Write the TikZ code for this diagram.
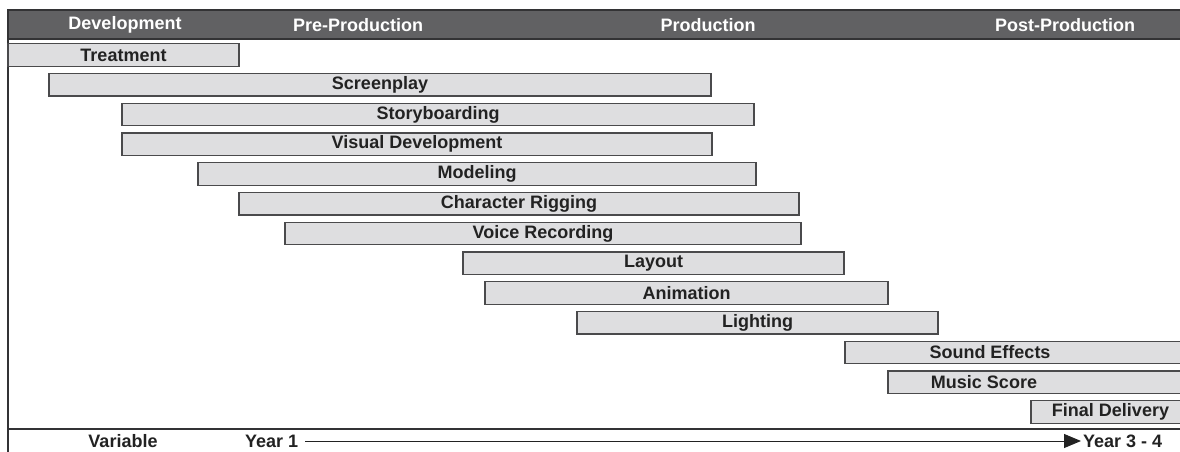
\documentclass[tikz,border=0pt]{standalone}
\usepackage{fontspec}
\setmainfont{Liberation Sans}
\usepackage{xcolor}
\usepackage{tikz}
\usetikzlibrary{arrows.meta}

\definecolor{bandgray}{HTML}{616163}
\definecolor{bandline}{HTML}{333335}
\definecolor{barfill}{HTML}{DEDEE0}
\definecolor{barline}{HTML}{4A4A4C}
\definecolor{ink}{HTML}{222222}

\begin{document}
\begin{tikzpicture}[
    x=1pt, y=-1pt,
    bar/.style={rectangle, draw=barline, fill=barfill, line width=1.2pt, minimum height=22.5pt, inner sep=0pt, text=ink, font=\bfseries\fontsize{18}{20}\selectfont},
    phase/.style={text=white, inner sep=0pt, font=\bfseries\fontsize{18}{20}\selectfont},
    scale label/.style={text=ink, inner sep=0pt, font=\bfseries\fontsize{18}{20}\selectfont},
    arrow/.style={-{Triangle[length=17pt,width=14pt]}, line width=1pt, ink}
]
    \useasboundingbox (0,0) rectangle (1180,452);

    % phase band
    \draw[fill=bandgray, draw=bandline, line width=1.8pt] (8,10) rectangle (1190,39);
    \node[phase] (dev) at (125,25) {Development};
    \node[phase] (preprod) at (358,25) {Pre-Production};
    \node[phase] (prod) at (708,25) {Production};
    \node[phase] (postprod) at (1065,25) {Post-Production};

    % frame
    \draw[line width=1.5pt, bandline] (8,39) -- (8,452);
    \draw[line width=1.8pt, bandline] (8,429) -- (1190,429);

    % tasks
    \node[bar, minimum width=231pt] (treatment) at (123.5,55) {Treatment};
    \node[bar, minimum width=662pt] (screenplay) at (380,84.75) {Screenplay};
    \node[bar, minimum width=632pt] (storyboard) at (438,114.5) {Storyboarding};
    \node[bar, minimum width=590pt] (visdev) at (417,144.25) {Visual Development};
    \node[bar, minimum width=558pt] (modeling) at (477,174) {Modeling};
    \node[bar, minimum width=560pt] (rigging) at (519,203.75) {Character Rigging};
    \node[bar, minimum width=516pt] (voice) at (543,233.5) {Voice Recording};
    \node[bar, minimum width=381pt] (layout) at (653.5,263.25) {Layout};
    \node[bar, minimum width=403pt] (animation) at (686.5,293) {Animation};
    \node[bar, minimum width=361pt] (lighting) at (757.5,322.75) {Lighting};
    \node[bar, minimum width=345pt] (sfx) at (1017.5,352.5) {Sound Effects\hspace*{55pt}};
    \node[bar, minimum width=302pt] (score) at (1039,382.25) {Music Score\hspace*{110pt}};
    \node[bar, minimum width=159pt] (delivery) at (1110.5,412) {Final Delivery};

    % time scale
    \node[scale label] (variable) at (123,441) {Variable};
    \node[scale label, anchor=west] (year1) at (245,441) {Year 1};
    \node[scale label, anchor=west] (year34) at (1083,441) {Year 3 - 4};
    \draw[arrow, shorten <=7pt, shorten >=2pt] (year1.east) -- (year34.west);
\end{tikzpicture}
\end{document}
